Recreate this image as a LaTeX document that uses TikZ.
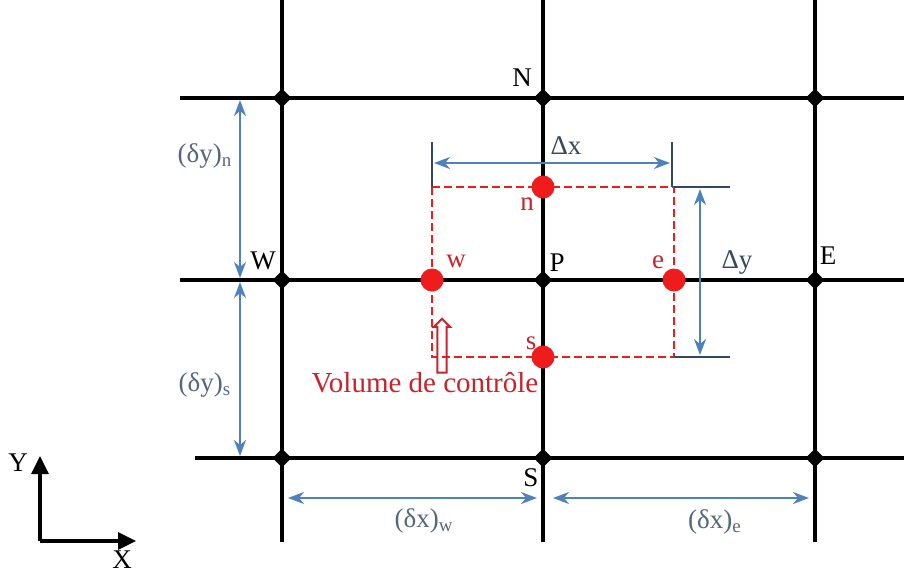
\documentclass[tikz,border=0pt]{standalone}
\usepackage{fontspec}
\setmainfont{Liberation Serif}
\usetikzlibrary{arrows.meta, positioning, shapes.geometric, shapes.arrows}
\definecolor{fvblue}{HTML}{4F81BD}
\definecolor{fvred}{HTML}{EE1C1C}
\definecolor{fvtext}{HTML}{C8232C}
\definecolor{fvdark}{HTML}{34495E}
\definecolor{fvgray}{HTML}{55677E}

\begin{document}
\begin{tikzpicture}[x=0.5pt, y=-0.5pt,
  gridpt/.style={diamond, fill=black, inner sep=0pt, minimum size=9.5pt},
  facept/.style={circle, fill=fvred, inner sep=0pt, minimum size=11.5pt},
  gridline/.style={black, line width=1.6pt},
  cvbox/.style={fvred, line width=1.3pt, dash pattern=on 4pt off 2pt},
  tickline/.style={fvdark, line width=1.1pt},
  dimarrow/.style={fvblue, line width=1.1pt,
    {Stealth[length=8pt,width=6pt,inset=2.5pt]}-{Stealth[length=8pt,width=6pt,inset=2.5pt]}},
  axis/.style={black, line width=1.6pt, -{Triangle[length=9pt,width=8.5pt]}},
  lbl/.style={inner sep=0pt, font=\fontsize{13.5}{15}\selectfont},
  dimlbl/.style={lbl, text=fvgray},
  facelbl/.style={lbl, text=fvtext},
  hollowarrow/.style={single arrow, draw=fvtext, line width=1pt,
    minimum height=27pt, inner sep=1.8pt, single arrow head extend=1.8pt,
    shape border rotate=90},
]
  \useasboundingbox (0,0) rectangle (904,574);

  \coordinate (top) at (0,0);
  \coordinate (bot) at (0,542);
  \coordinate (lft) at (180,0);
  \coordinate (rgt) at (904,0);

  \node[gridpt] (NW) at (282,98) {};
  \node[gridpt] (N) at (543,98) {};
  \node[gridpt] (NE) at (815,98) {};
  \node[gridpt] (W) at (282,280) {};
  \node[gridpt] (P) at (543,280) {};
  \node[gridpt] (E) at (815,280) {};
  \node[gridpt] (SW) at (282,458) {};
  \node[gridpt] (S) at (543,458) {};
  \node[gridpt] (SE) at (815,458) {};

  \draw[gridline] (NW |- top) -- (SW |- bot);
  \draw[gridline] (N |- top) -- (S |- bot);
  \draw[gridline] (NE |- top) -- (SE |- bot);
  \draw[gridline] (lft |- NW) -- (rgt |- NE);
  \draw[gridline] (lft |- W) -- (rgt |- E);
  \draw[gridline] ([xshift=7.5pt]lft |- SW) -- (rgt |- SE);

  \node[lbl] at (522,78) {N};
  \node[lbl] at (263,261) {W};
  \node[lbl] at (557,263) {P};
  \node[lbl] at (828,256) {E};
  \node[lbl] at (531,478) {S};

  \coordinate (nwc) at (432,187);
  \coordinate (sec) at (674,357);
  \coordinate (nec) at (sec |- nwc);
  \coordinate (swc) at (nwc |- sec);
  \draw[cvbox] (nwc) rectangle (sec);

  \node[facept] (n) at (P |- nwc) {};
  \node[facept] (s) at (P |- sec) {};
  \node[facept] (w) at (nwc |- P) {};
  \node[facept] (e) at (sec |- P) {};

  \node[facelbl] at (527,204) {n};
  \node[facelbl] at (456,261) {w};
  \node[facelbl] at (658,262) {e};
  \node[facelbl] at (531,343) {s};

  \draw[tickline] (nwc) -- ++(0,-45);
  \draw[tickline] ([xshift=-1pt]nec) -- ++(0,-45);
  \draw[tickline] (nec) -- ++(56,0);
  \draw[tickline] (sec) -- ++(56,0);
  \draw[dimarrow] ([yshift=12pt,xshift=1pt]nwc) -- ([yshift=12pt,xshift=-2pt]nec);
  \draw[dimarrow] ([xshift=13pt,yshift=-1pt]nec) -- ([xshift=13pt,yshift=1pt]sec);
  \node[dimlbl, text=fvdark] at (566,146) {Δx};
  \node[dimlbl, text=fvdark] at (737,262) {Δy};

  \draw[dimarrow] ([xshift=-21pt,yshift=-1pt]NW.center) -- ([xshift=-21pt,yshift=1pt]W.center);
  \draw[dimarrow] ([xshift=-21pt,yshift=-1pt]W.center) -- ([xshift=-21pt,yshift=1pt]SW.center);
  \draw[dimarrow] ([yshift=-20pt,xshift=3pt]SW.center) -- ([yshift=-20pt,xshift=-3pt]S.center);
  \draw[dimarrow] ([yshift=-20pt,xshift=5pt]S.center) -- ([yshift=-20pt,xshift=-3pt]SE.center);
  \node[dimlbl] at (205,156) {(δy)\textsubscript{n}};
  \node[dimlbl] at (205,385) {(δy)\textsubscript{s}};
  \node[dimlbl] at (424,521) {(δx)\textsubscript{w}};
  \node[dimlbl] at (715,522) {(δx)\textsubscript{e}};

  \node[hollowarrow] (cvarrow) at (442,348) {};
  \node[facelbl, font=\fontsize{14.5}{16}\selectfont] (cvname) at (425,383) {Volume de contrôle};

  \coordinate (O) at (40,541);
  \coordinate (Ytip) at (40,456);
  \coordinate (Xtip) at (136,541);
  \draw[axis] (O) -- (Ytip);
  \draw[axis] (O) -- (Xtip);
  \node[lbl] at (18,463) {Y};
  \node[lbl] at (122,560) {X};
\end{tikzpicture}
\end{document}
